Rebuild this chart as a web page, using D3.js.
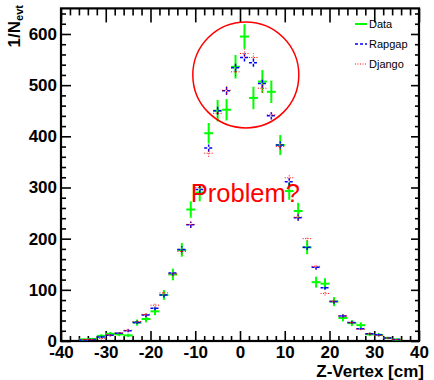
<!DOCTYPE html>
<html>
<head>
<meta charset="utf-8">
<script src="https://cdn.jsdelivr.net/npm/d3@7"></script>
<style>
  body { margin: 0; background: #fff; }
  text { font-family: "Liberation Sans", Arial, sans-serif; }
</style>
</head>
<body>
<script>
let width = 434
let height = 380
let margin = {top: 8.4, right: 15, bottom: 39, left: 61}

// bin centres of the Z-vertex histogram (2 cm bins)
const binCentres = [-35, -33, -31, -29, -27, -25, -23, -21, -19, -17, -15, -13, -11, -9, -7, -5, -3, -1,
                    1, 3, 5, 7, 9, 11, 13, 15, 17, 19, 21, 23, 25, 27, 29, 31, 33, 35]
const binHalf = 1

const dataValues = [3, 4, 10, 14, 13, 11, 36, 43, 58, 90, 130, 178, 257, 290, 406, 450, 452, 536,
                    595, 475, 507, 487, 383, 293, 254, 183, 115, 112, 77, 45, 35, 31, 13, 12, 6, 3]
const dataErrors = [1.7, 2, 3.2, 3.7, 3.6, 3.3, 6, 6.6, 7.6, 9.5, 11.4, 13.3, 16, 17, 20, 21, 21, 23,
                    24, 22, 22.5, 22, 19.6, 17, 16, 13.5, 10.7, 10.6, 8.8, 6.7, 5.9, 5.6, 3.6, 3.5, 2.4, 1.7]
const rapgapValues = [2, 3, 8, 11, 15, 20, 36, 51, 64, 90, 133, 179, 227, 296, 377, 450, 489, 534,
                      554, 544, 503, 440, 383, 311, 241, 183, 144, 104, 77, 49, 36, 24, 14, 12, 6, 3]
const djangoValues = [3, 3, 5, 12, 16, 21, 38, 52, 70, 94, 131, 175, 228, 300, 367, 445, 490, 526,
                      562, 554, 494, 442, 380, 319, 242, 200, 146, 93, 78, 49, 36, 23, 14, 11, 6, 3]
const mcErrors = [1, 1, 2, 2, 2, 3, 3, 4, 4, 5, 5, 6, 6, 7, 7, 8, 8, 8,
                  8, 8, 8, 7, 7, 7, 6, 5, 5, 4, 4, 3, 3, 2, 2, 2, 1, 1]

const xMajor = [-40, -30, -20, -10, 0, 10, 20, 30, 40]
const yMajor = [0, 100, 200, 300, 400, 500, 600]

const legendItems = ["Data", "Rapgap", "Django"]

let x = d3.scaleLinear().domain([-40, 40]).range([margin.left, width - margin.right])
let y = d3.scaleLinear().domain([0, 650]).range([height - margin.bottom, margin.top])

let svg = d3.select("body").append("svg")
    .attr("width", width)
    .attr("height", height)

let xMinor = d3.range(-40, 40.1, 2).filter(v => v % 10 != 0)
let yMinor = d3.range(0, 641, 20).filter(v => v % 100 != 0)

let tickFont = g => g.selectAll("text")
    .attr("font-family", "Liberation Sans, Arial, sans-serif")
    .attr("font-weight", "bold")
    .attr("font-size", 17)
    .attr("fill", "#000")

let clean = g => {
    g.select(".domain").remove()
    g.selectAll("line").attr("stroke", "#000").attr("stroke-width", 1.6)
}

// bottom axis
svg.append("g")
    .attr("transform", "translate(0," + y(0) + ")")
    .call(d3.axisBottom(x).tickValues(xMajor).tickSize(-10).tickPadding(5).tickFormat(d => String(d)))
    .call(clean).call(tickFont)
svg.append("g")
    .attr("transform", "translate(0," + y(0) + ")")
    .call(d3.axisBottom(x).tickValues(xMinor).tickSize(-5).tickFormat(""))
    .call(clean)

// top axis (mirror)
svg.append("g")
    .attr("transform", "translate(0," + y(650) + ")")
    .call(d3.axisTop(x).tickValues(xMajor).tickSize(-14).tickFormat(""))
    .call(clean)
svg.append("g")
    .attr("transform", "translate(0," + y(650) + ")")
    .call(d3.axisTop(x).tickValues(xMinor).tickSize(-7).tickFormat(""))
    .call(clean)

// left axis
svg.append("g")
    .attr("transform", "translate(" + x(-40) + ",0)")
    .call(d3.axisLeft(y).tickValues(yMajor).tickSize(-10).tickPadding(4).tickFormat(d => String(d)))
    .call(clean).call(tickFont)
svg.append("g")
    .attr("transform", "translate(" + x(-40) + ",0)")
    .call(d3.axisLeft(y).tickValues(yMinor).tickSize(-5).tickFormat(""))
    .call(clean)

// right axis (mirror)
svg.append("g")
    .attr("transform", "translate(" + x(40) + ",0)")
    .call(d3.axisRight(y).tickValues(yMajor).tickSize(-8).tickFormat(""))
    .call(clean)
svg.append("g")
    .attr("transform", "translate(" + x(40) + ",0)")
    .call(d3.axisRight(y).tickValues(yMinor).tickSize(-4).tickFormat(""))
    .call(clean)

// frame
svg.append("rect")
    .attr("x", x(-40))
    .attr("y", y(650))
    .attr("width", x(40) - x(-40))
    .attr("height", y(0) - y(650))
    .attr("fill", "none")
    .attr("stroke", "#000")
    .attr("stroke-width", 2.2)

// axis titles
svg.append("text")
    .attr("x", x(40) + 5)
    .attr("y", 377)
    .attr("text-anchor", "end")
    .attr("font-weight", "bold")
    .attr("font-size", 17)
    .text("Z-Vertex [cm]")

let yTitle = svg.append("text")
    .attr("transform", "translate(20,5) rotate(-90)")
    .attr("text-anchor", "end")
    .attr("font-weight", "bold")
    .attr("font-size", 17)
yTitle.append("tspan").text("1/N")
yTitle.append("tspan").attr("font-size", 11).attr("dy", 3).text("evt")

// histogram crosses
let series = [
    {name: "Data", values: dataValues, errors: dataErrors, color: "#00ff00", width: 2, dash: null},
    {name: "Rapgap", values: rapgapValues, errors: mcErrors, color: "#0000ff", width: 1.5, dash: "3,2"},
    {name: "Django", values: djangoValues, errors: mcErrors, color: "#ff0000", width: 1, dash: "1,1.5"}
]

series.forEach(s => {
    let pts = binCentres.map((c, i) => ({c: c, v: s.values[i], e: s.errors[i]}))
    let g = svg.append("g").attr("class", "series")
        .attr("stroke", s.color)
        .attr("stroke-width", s.width)
        .attr("stroke-dasharray", s.dash)
    g.selectAll(".h").data(pts).enter().append("line")
        .attr("class", "h")
        .attr("x1", d => x(d.c - binHalf))
        .attr("x2", d => x(d.c + binHalf))
        .attr("y1", d => y(d.v))
        .attr("y2", d => y(d.v))
    g.selectAll(".v").data(pts).enter().append("line")
        .attr("class", "v")
        .attr("x1", d => x(d.c))
        .attr("x2", d => x(d.c))
        .attr("y1", d => y(Math.max(0, d.v - d.e)))
        .attr("y2", d => y(d.v + d.e))
})

// legend
let legend = svg.append("g")
legendItems.forEach((name, i) => {
    let s = series[i]
    let ly = 24 + i * 20
    legend.append("line")
        .attr("x1", 355).attr("x2", 367)
        .attr("y1", ly).attr("y2", ly)
        .attr("stroke", s.color)
        .attr("stroke-width", s.width)
        .attr("stroke-dasharray", s.dash)
    legend.append("text")
        .attr("x", 369)
        .attr("y", ly + 4)
        .attr("font-size", 11)
        .text(name)
})

// annotation
svg.append("circle")
    .attr("cx", x(1.3))
    .attr("cy", y(520))
    .attr("r", 53)
    .attr("fill", "none")
    .attr("stroke", "#ff0000")
    .attr("stroke-width", 1.5)

svg.append("text")
    .attr("x", x(-11.0))
    .attr("y", y(272))
    .attr("fill", "#ff0000")
    .attr("font-size", 25.5)
    .text("Problem?")
</script>
</body>
</html>
